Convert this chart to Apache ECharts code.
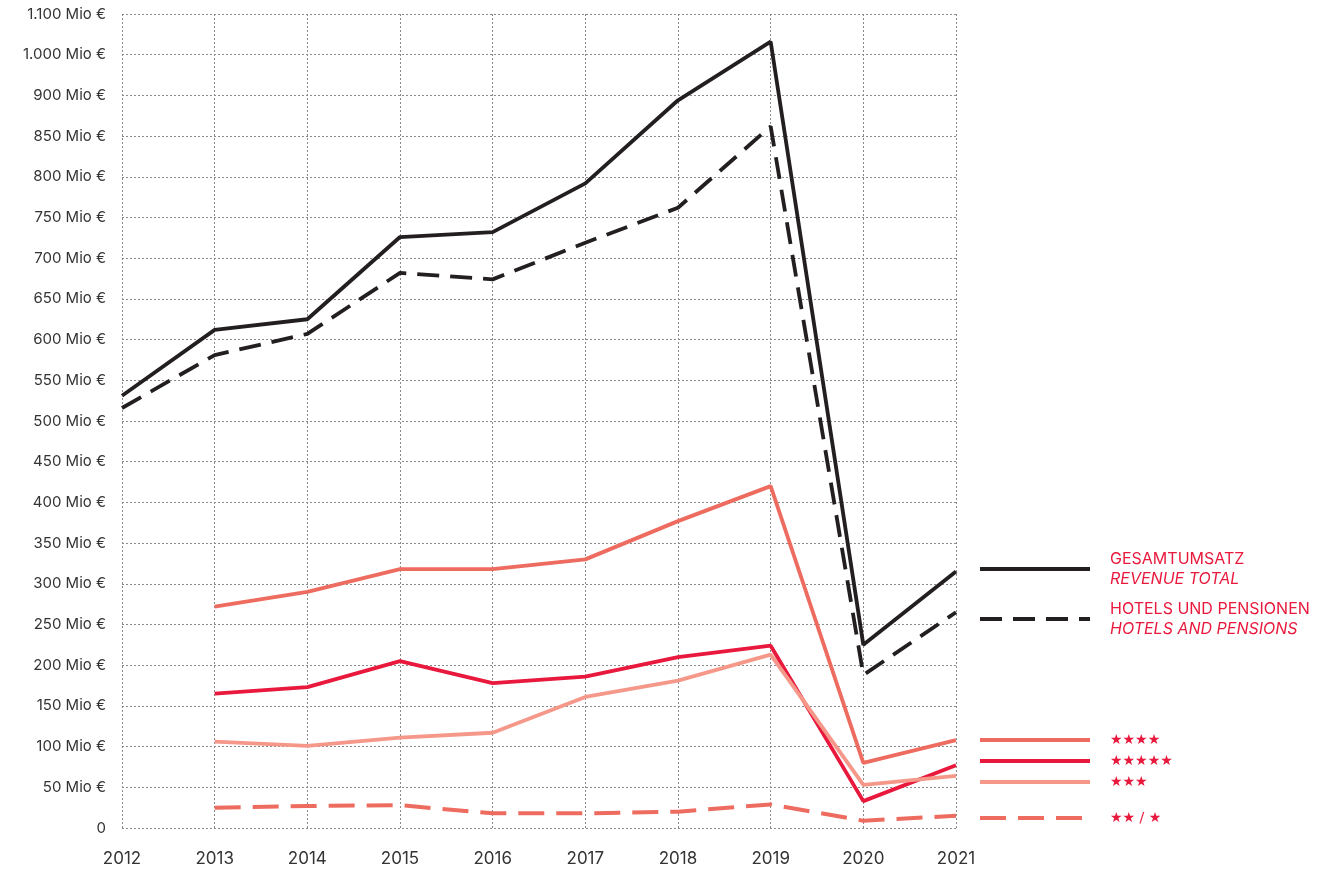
<!DOCTYPE html>
<html>
<head>
<meta charset="utf-8">
<script src="https://cdn.jsdelivr.net/npm/echarts@6/dist/echarts.min.js"></script>
<style>
  html, body { margin: 0; padding: 0; background: #fff; }
  #chart { width: 1321px; height: 870px; }
</style>
</head>
<body>
<div id="chart"></div>
<script>
// Jahre
const years = ['2012', '2013', '2014', '2015', '2016', '2017', '2018', '2019', '2020', '2021'];
// Werte in Achseneinheiten (obere Skala gestaucht: 950 = "1.000", 1000 = "1.100")
const revenueTotal = [531, 612, 625, 726, 732, 792, 894, 966, 225, 315];
const hotelsPensions = [516, 581, 607, 682, 674, 719, 762, 862, 188, 265];
const fourStar = [null, 272, 290, 318, 318, 330, 377, 420, 80, 108];
const fiveStar = [null, 165, 173, 205, 178, 186, 210, 224, 33, 77];
const threeStar = [null, 106, 101, 111, 117, 161, 181, 213, 53, 64];
const twoOneStar = [null, 25, 27, 28, 18, 18, 20, 29, 9, 15];
// Achsenbeschriftung
const tickLabels = { 950: '1.000 Mio €', 1000: '1.100 Mio €' };

const BLACK = '#231f20';
const RED = '#e8193c';
const CORAL = '#ee6b5f';
const SALMON = '#f5988a';
const FONT = 'Inter, Roboto, sans-serif';

const myChart = echarts.init(document.getElementById('chart'));

function makeLegend(name, top) {
  return {
    data: [name],
    left: 973,
    top: top,
    orient: 'vertical',
    selectedMode: false,
    itemWidth: 110,
    itemHeight: 14,
    itemStyle: { opacity: 0 },
    lineStyle: { width: 4 },
    formatter: function (n) {
      if (n === 'Gesamtumsatz') return '{n|GESAMTUMSATZ}\n{i|REVENUE TOTAL}';
      if (n === 'Hotels') return '{n|HOTELS UND PENSIONEN}\n{i|HOTELS AND PENSIONS}';
      return '{s|' + n + '}';
    },
    textStyle: {
      padding: [0, 0, 0, 15],
      rich: {
        n: { color: RED, fontSize: 16, fontFamily: FONT, lineHeight: 20 },
        i: { color: RED, fontSize: 16, fontFamily: FONT, fontStyle: 'italic', lineHeight: 20 },
        s: { color: RED, fontSize: 14, fontFamily: 'DejaVu Sans, sans-serif' },
      },
    },
  };
}

const option = {
  animation: false,
  backgroundColor: '#fff',
  grid: { left: 122, right: 365, top: 14, bottom: 42, containLabel: false },
  legend: [
    makeLegend('Gesamtumsatz', 546),
    makeLegend('Hotels', 596),
    makeLegend('★★★★', 728),
    makeLegend('★★★★★', 749),
    makeLegend('★★★', 770),
    makeLegend('★★ / ★', 806),
  ],
  xAxis: {
    type: 'category',
    data: years,
    boundaryGap: false,
    axisLine: { show: false },
    axisTick: { show: false },
    axisLabel: { color: '#333', fontSize: 17, fontFamily: FONT, margin: 22 },
    splitLine: { show: true, lineStyle: { color: '#8a8a8a', type: [2, 2], width: 1 } },
  },
  yAxis: {
    type: 'value',
    min: 0,
    max: 1000,
    interval: 50,
    axisLine: { show: false },
    axisTick: { show: false },
    axisLabel: {
      color: '#333',
      fontSize: 15,
      fontFamily: FONT,
      margin: 16,
      formatter: function (v) {
        if (v === 0) return '0';
        if (tickLabels[v]) return tickLabels[v];
        return v + ' Mio €';
      },
    },
    splitLine: { show: true, lineStyle: { color: '#8a8a8a', type: [2, 2], width: 1 } },
  },
  series: [
    {
      name: '★★ / ★', type: 'line', data: twoOneStar, symbol: 'none',
      lineStyle: { color: CORAL, width: 4, type: [26, 12] }, itemStyle: { color: CORAL },
    },
    {
      name: '★★★★★', type: 'line', data: fiveStar, symbol: 'none',
      lineStyle: { color: RED, width: 3.8 }, itemStyle: { color: RED },
    },
    {
      name: '★★★', type: 'line', data: threeStar, symbol: 'none',
      lineStyle: { color: SALMON, width: 3.8 }, itemStyle: { color: SALMON },
    },
    {
      name: '★★★★', type: 'line', data: fourStar, symbol: 'none',
      lineStyle: { color: CORAL, width: 3.8 }, itemStyle: { color: CORAL },
    },
    {
      name: 'Hotels', type: 'line', data: hotelsPensions, symbol: 'none',
      lineStyle: { color: BLACK, width: 3.8, type: [22, 11] }, itemStyle: { color: BLACK },
    },
    {
      name: 'Gesamtumsatz', type: 'line', data: revenueTotal, symbol: 'none',
      lineStyle: { color: BLACK, width: 3.8 }, itemStyle: { color: BLACK },
    },
  ],
};

myChart.setOption(option);
</script>
</body>
</html>
